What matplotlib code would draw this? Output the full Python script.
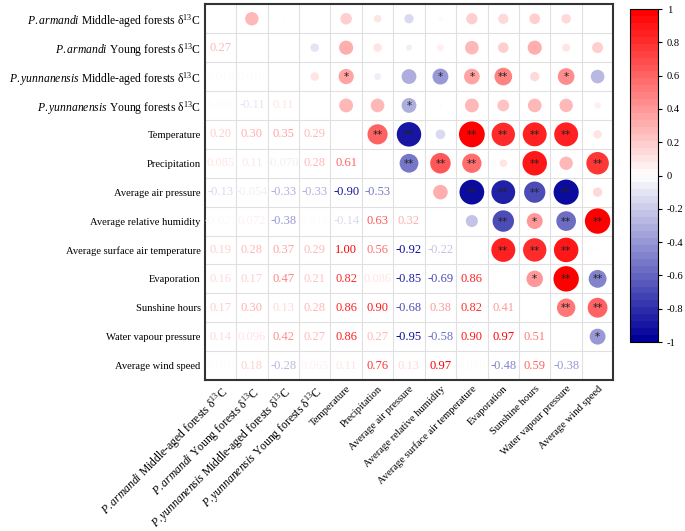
import numpy as np
import matplotlib
matplotlib.use("Agg")
import matplotlib.pyplot as plt
from matplotlib.colors import LinearSegmentedColormap, Normalize

plt.rcParams['font.family'] = ['Liberation Serif', 'DejaVu Serif']
plt.rcParams['mathtext.fontset'] = 'custom'
plt.rcParams['mathtext.rm'] = 'Liberation Serif'
plt.rcParams['mathtext.it'] = 'Liberation Serif:italic'

# --- variable names ---
labels = [
    r'$\mathit{P.armandi}$ Middle-aged forests δ$^{13}$C',
    r'$\mathit{P.armandi}$ Young forests δ$^{13}$C',
    r'$\mathit{P.yunnanensis}$ Middle-aged forests δ$^{13}$C',
    r'$\mathit{P.yunnanensis}$ Young forests δ$^{13}$C',
    'Temperature',
    'Precipitation',
    'Average air pressure',
    'Average relative humidity',
    'Average surface air temperature',
    'Evaporation',
    'Sunshine hours',
    'Water vapour pressure',
    'Average wind speed',
]

# lower triangle of the correlation matrix, row by row (values under the diagonal)
lower_rows = [
    [],
    [0.27],
    [0.01, 0.01],
    [0.01, -0.11, 0.11],
    [0.20, 0.30, 0.35, 0.29],
    [0.085, 0.11, -0.070, 0.28, 0.61],
    [-0.13, -0.054, -0.33, -0.33, -0.90, -0.53],
    [-0.027, 0.072, -0.38, 0.01, -0.14, 0.63, 0.32],
    [0.19, 0.28, 0.37, 0.29, 1.00, 0.56, -0.92, -0.22],
    [0.16, 0.17, 0.47, 0.21, 0.82, 0.086, -0.85, -0.69, 0.86],
    [0.17, 0.30, 0.13, 0.28, 0.86, 0.90, -0.68, 0.38, 0.82, 0.41],
    [0.14, 0.096, 0.42, 0.27, 0.86, 0.27, -0.95, -0.58, 0.90, 0.97, 0.51],
    [0.01, 0.18, -0.28, 0.065, 0.11, 0.76, 0.13, 0.97, 0.01, -0.48, 0.59, -0.38],
]

# significance marks in the upper triangle: (row, col, mark)
signif = [
    (2, 4, '*'), (2, 7, '*'), (2, 8, '*'), (2, 9, '**'), (2, 11, '*'),
    (3, 6, '*'),
    (4, 5, '**'), (4, 6, '**'), (4, 8, '**'), (4, 9, '**'), (4, 10, '**'), (4, 11, '**'),
    (5, 6, '**'), (5, 7, '**'), (5, 8, '**'), (5, 10, '**'), (5, 12, '**'),
    (6, 8, '**'), (6, 9, '**'), (6, 10, '**'), (6, 11, '**'),
    (7, 9, '**'), (7, 10, '*'), (7, 11, '**'), (7, 12, '**'),
    (8, 9, '**'), (8, 10, '**'), (8, 11, '**'),
    (9, 10, '*'), (9, 11, '**'), (9, 12, '**'),
    (10, 11, '**'), (10, 12, '**'),
    (11, 12, '*'),
]

n = len(labels)
corr = np.eye(n)
for i, row in enumerate(lower_rows):
    for j, v in enumerate(row):
        corr[i, j] = v
        corr[j, i] = v

cmap = LinearSegmentedColormap.from_list('rwb', ['#000099', '#ffffff', '#ff0000'], N=48)
norm = Normalize(-1, 1)

fig = plt.figure(figsize=(6.85, 5.31), dpi=100)
ax = fig.add_axes([204.7 / 685, 1 - 380 / 531, (613.3 - 204.7) / 685, (380 - 4.3) / 531])

ax.set_xlim(-0.5, n - 0.5)
ax.set_ylim(n - 0.5, -0.5)

# grid
for k in range(1, n):
    ax.axhline(k - 0.5, color='#e0e0e0', lw=0.8, zorder=0)
    ax.axvline(k - 0.5, color='#e0e0e0', lw=0.8, zorder=0)

# circles (upper triangle)
xs, ys, vals = [], [], []
for i in range(n):
    for j in range(i + 1, n):
        xs.append(j)
        ys.append(i)
        vals.append(corr[i, j])
vals = np.array(vals)
ax.scatter(xs, ys, s=345 * np.abs(vals), c=vals, cmap=cmap, norm=norm,
           edgecolors='none', zorder=2)

for i, j, mark in signif:
    ax.text(j, i + 0.02, mark, ha='center', va='center', fontsize=7.5,
            family='DejaVu Sans', color='#222222', zorder=3)

# numbers (lower triangle)
for i in range(n):
    for j in range(i):
        v = corr[i, j]
        txt = f"{v:.3f}" if abs(v) < 0.1 else f"{v:.2f}"
        ax.text(j, i, txt, ha='center', va='center', fontsize=9,
                color=cmap(norm(v)), zorder=3)

ax.set_xticks(range(n))
ax.set_yticks(range(n))
ax.set_yticklabels(labels)
ax.set_xticklabels(labels, rotation=45, ha='right', rotation_mode='anchor')
for tl in ax.get_xticklabels() + ax.get_yticklabels():
    tl.set_fontsize(8.4 if '$' in tl.get_text() else 7.6)
ax.tick_params(length=0, pad=3)
for sp in ax.spines.values():
    sp.set_linewidth(1.5)
    sp.set_color('#333333')

# colorbar
cax = fig.add_axes([630 / 685, 1 - 342 / 531, 28 / 685, (342 - 9) / 531])
sm = matplotlib.cm.ScalarMappable(norm=norm, cmap=cmap)
cb = fig.colorbar(sm, cax=cax, ticks=np.arange(-1, 1.01, 0.2))
cb.ax.set_yticklabels(['-1', '-0.8', '-0.6', '-0.4', '-0.2', '0', '0.2', '0.4', '0.6', '0.8', '1'])
cb.ax.tick_params(labelsize=7.6, length=3, width=0.8)
cb.outline.set_linewidth(0.8)

fig.savefig('out.png', dpi=100)
